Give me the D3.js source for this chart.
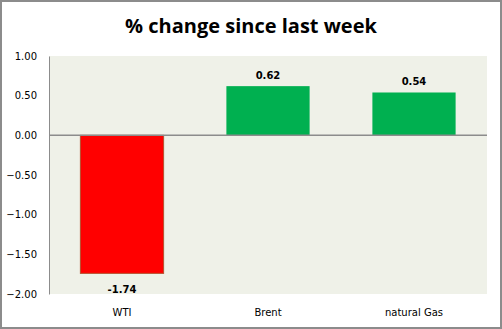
<!DOCTYPE html>
<html><head><meta charset="utf-8">
<script src="https://cdn.jsdelivr.net/npm/d3@7"></script>
<style>body{margin:0;background:#fff}svg{display:block}</style>
</head><body>
<script>
const categories = ["WTI", "Brent", "natural Gas"];
const values = [-1.74, 0.62, 0.54];
const tickValues = [1.0, 0.5, 0.0, -0.5, -1.0, -1.5, -2.0];
const title = "% change since last week";

const W = 502, H = 329;
const m = {left: 49, right: 15, top: 56, bottom: 35};
const svg = d3.select("body").append("svg").attr("width", W).attr("height", H);

svg.append("rect").attr("x", 1).attr("y", 1).attr("width", W - 2).attr("height", H - 2)
  .attr("fill", "#fff").attr("stroke", "#8c8c8c").attr("stroke-width", 2);

const x = d3.scaleBand().domain(categories).range([m.left, W - m.right]).paddingInner(0.43).paddingOuter(0.215);
const y = d3.scaleLinear().domain([-2, 1]).range([H - m.bottom, m.top]);

svg.append("rect").attr("x", m.left).attr("y", m.top).attr("width", W - m.right - m.left)
  .attr("height", H - m.bottom - m.top).attr("fill", "#eff1e8");

svg.append("text").attr("x", W / 2).attr("y", 33).attr("text-anchor", "middle")
  .attr("font-family", "Open Sans, sans-serif").attr("font-weight", "bold").attr("font-size", 20)
  .attr("fill", "#000").text(title);

const yAxis = d3.axisLeft(y).tickValues(tickValues).tickFormat(d3.format(".2f")).tickSize(0).tickPadding(12);
const gy = svg.append("g").attr("transform", `translate(${m.left},0)`).call(yAxis);
gy.select(".domain").attr("stroke", "#8c8c8c");
gy.selectAll("text").attr("font-family", "DejaVu Sans, Verdana, sans-serif").attr("font-size", 10).attr("fill", "#000");

svg.selectAll("rect.bar").data(values).enter().append("rect").attr("class", "bar")
  .attr("x", (d, i) => x(categories[i]))
  .attr("width", x.bandwidth())
  .attr("y", d => y(Math.max(0, d)))
  .attr("height", d => Math.abs(y(d) - y(0)))
  .attr("fill", d => d < 0 ? "#ff0000" : "#00b050")
  .attr("stroke", d => d < 0 ? "#b5502e" : "none").attr("stroke-width", 1);

svg.append("line").attr("x1", m.left).attr("x2", W - m.right).attr("y1", y(0)).attr("y2", y(0))
  .attr("stroke", "#8c8c8c").attr("stroke-width", 1.5);

svg.selectAll("text.val").data(values).enter().append("text").attr("class", "val")
  .attr("x", (d, i) => x(categories[i]) + x.bandwidth() / 2)
  .attr("y", d => d < 0 ? y(d) + 20 : y(d) - 7)
  .attr("text-anchor", "middle").attr("font-family", "DejaVu Sans, Verdana, sans-serif")
  .attr("font-weight", "bold").attr("font-size", 10).attr("fill", "#000")
  .text(d => d.toFixed(2));

svg.selectAll("text.cat").data(categories).enter().append("text").attr("class", "cat")
  .attr("x", d => x(d) + x.bandwidth() / 2).attr("y", 316)
  .attr("text-anchor", "middle").attr("font-family", "DejaVu Sans, Verdana, sans-serif")
  .attr("font-size", 10).attr("fill", "#000").text(d => d);
</script>
</body></html>
